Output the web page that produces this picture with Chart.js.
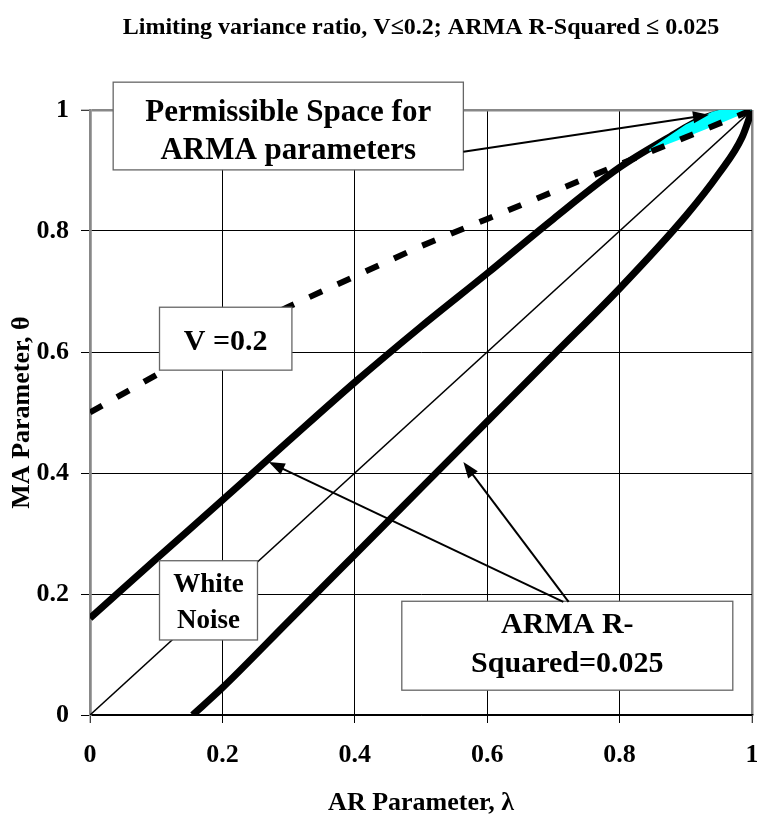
<!DOCTYPE html>
<html>
<head>
<meta charset="utf-8">
<script src="https://cdn.jsdelivr.net/npm/chart.js@4.4.0/dist/chart.umd.min.js"></script>
<style>
  html, body { margin: 0; padding: 0; background: #fff; }
  #wrap { width: 757px; height: 816px; position: relative; }
</style>
</head>
<body>
<div id="wrap"><canvas id="arma"></canvas></div>
<script>
// --- DATA ---
const xTickLabels = ['0', '0.2', '0.4', '0.6', '0.8', '1'];
const yTickLabels = ['0', '0.2', '0.4', '0.6', '0.8', '1'];

// ARMA R-Squared = 0.025, upper branch
const upperLam   = [0, 0.1, 0.2, 0.3, 0.4, 0.5, 0.6, 0.7, 0.8, 0.87, 0.93, 0.97, 1];
const upperTheta = [0.16, 0.258, 0.355, 0.453, 0.55, 0.642, 0.73, 0.82, 0.905, 0.952, 0.988, 0.998, 1];

// ARMA R-Squared = 0.025, lower branch
const lowerLam   = [0.155, 0.2, 0.3, 0.4, 0.5, 0.6, 0.7, 0.8, 0.9, 0.95, 0.985, 1];
const lowerTheta = [0, 0.045, 0.155, 0.265, 0.375, 0.485, 0.595, 0.705, 0.825, 0.895, 0.955, 1];

// V = 0.2 boundary
const vLam   = [0, 0.1, 0.2, 0.3, 0.4, 0.5, 0.6, 0.7, 0.8, 0.9, 1];
const vTheta = [0.5, 0.562, 0.62, 0.675, 0.725, 0.775, 0.82, 0.865, 0.91, 0.955, 1];

// white noise diagonal
const wnLam   = [0, 1];
const wnTheta = [0, 1];

// permissible region outline (cyan)
const permLam   = [0.845, 0.9, 0.94, 0.97, 1, 1, 0.95, 0.9, 0.845];
const permTheta = [0.935, 0.976, 0.997, 1.006, 1.008, 1.0, 0.977, 0.955, 0.932];

const titleText = 'Limiting variance ratio, V\u22640.2; ARMA R-Squared \u2264 0.025';

// text boxes, corners in data units
const notes = [
    { x0: 0.035, y0: 1.046, x1: 0.564, y1: 0.901, lines: ['Permissible Space for', 'ARMA parameters'], size: 31, gap: 38, dy: 6 },
    { x0: 0.105, y0: 0.674, x1: 0.305, y1: 0.570, lines: ['V =0.2'], size: 30, gap: 0, dy: 4 },
    { x0: 0.105, y0: 0.255, x1: 0.253, y1: 0.124, lines: ['White', 'Noise'], size: 27, gap: 36, dy: 3 },
    { x0: 0.471, y0: 0.188, x1: 0.971, y1: 0.041, lines: ['ARMA R-', 'Squared=0.025'], size: 30, gap: 39, dy: -1 }
];

// arrows: from -> to, data units
const arrows = [
    { x0: 0.564, y0: 0.931, x1: 0.935, y1: 0.992 },
    { x0: 0.715, y0: 0.187, x1: 0.270, y1: 0.418 },
    { x0: 0.723, y0: 0.187, x1: 0.564, y1: 0.418 }
];

const FONT = '"Liberation Serif", "Times New Roman", serif';
const pts = (xs, ys) => xs.map((x, i) => ({ x: x, y: ys[i] }));
const isEdge = v => Math.abs(v) < 1e-6 || Math.abs(v - 1) < 1e-6;

// --- annotation plugin ---
const annotate = {
    id: 'annotate',
    afterDraw(chart) {
        const { ctx, scales: { x, y }, chartArea } = chart;
        ctx.save();

        // title, centred over the plot area
        ctx.fillStyle = '#000';
        ctx.font = 'bold 24px ' + FONT;
        ctx.textAlign = 'center';
        ctx.textBaseline = 'middle';
        ctx.fillText(titleText, (chartArea.left + chartArea.right) / 2, 28);

        notes.forEach(n => {
            const l = x.getPixelForValue(n.x0), r = x.getPixelForValue(n.x1);
            const t = y.getPixelForValue(n.y0), b = y.getPixelForValue(n.y1);
            ctx.fillStyle = '#fff';
            ctx.fillRect(l, t, r - l, b - t);
            ctx.strokeStyle = '#666';
            ctx.lineWidth = 1.3;
            ctx.strokeRect(l, t, r - l, b - t);
            ctx.fillStyle = '#000';
            ctx.font = 'bold ' + n.size + 'px ' + FONT;
            const cx = (l + r) / 2, cy = (t + b) / 2 + n.dy;
            const start = cy - (n.lines.length - 1) * n.gap / 2;
            n.lines.forEach((s, i) => ctx.fillText(s, cx, start + i * n.gap));
        });

        arrows.forEach(a => {
            const x0 = x.getPixelForValue(a.x0), y0 = y.getPixelForValue(a.y0);
            const x1 = x.getPixelForValue(a.x1), y1 = y.getPixelForValue(a.y1);
            const ang = Math.atan2(y1 - y0, x1 - x0);
            const len = 16, half = 6;
            ctx.strokeStyle = '#000';
            ctx.lineWidth = 2;
            ctx.beginPath();
            ctx.moveTo(x0, y0);
            ctx.lineTo(x1 - Math.cos(ang) * len * 0.8, y1 - Math.sin(ang) * len * 0.8);
            ctx.stroke();
            ctx.fillStyle = '#000';
            ctx.beginPath();
            ctx.moveTo(x1, y1);
            ctx.lineTo(x1 - Math.cos(ang) * len - Math.sin(ang) * half, y1 - Math.sin(ang) * len + Math.cos(ang) * half);
            ctx.lineTo(x1 - Math.cos(ang) * len + Math.sin(ang) * half, y1 - Math.sin(ang) * len - Math.cos(ang) * half);
            ctx.closePath();
            ctx.fill();
        });
        ctx.restore();
    }
};

const tickFont = { family: FONT, size: 26, weight: 'bold' };
const titleFont = { family: FONT, size: 26, weight: 'bold', lineHeight: 1 };

// lower "order" is painted later (on top): R2 curves < cyan < dashed V line
new Chart(document.getElementById('arma').getContext('2d'), {
    type: 'line',
    data: {
        datasets: [
            { label: 'V=0.2', data: pts(vLam, vTheta), borderColor: '#000', borderWidth: 6, borderDash: [14, 17],
              pointRadius: 0, fill: false, order: 0 },
            { label: 'Permissible', data: pts(permLam, permTheta), fill: 'shape', backgroundColor: '#00ffff',
              borderWidth: 0, pointRadius: 0, order: 1, clip: 8 },
            { label: 'R2 upper', data: pts(upperLam, upperTheta), borderColor: '#000', borderWidth: 7,
              cubicInterpolationMode: 'monotone', pointRadius: 0, fill: false, order: 2 },
            { label: 'R2 lower', data: pts(lowerLam, lowerTheta), borderColor: '#000', borderWidth: 7,
              cubicInterpolationMode: 'monotone', pointRadius: 0, fill: false, order: 2 },
            { label: 'White noise', data: pts(wnLam, wnTheta), borderColor: '#000', borderWidth: 1.5,
              pointRadius: 0, fill: false, order: 3 }
        ]
    },
    options: {
        animation: false,
        responsive: true,
        maintainAspectRatio: false,
        layout: { padding: { top: 110, right: 5, left: 0, bottom: 0 } },
        plugins: { legend: { display: false }, tooltip: { enabled: false }, title: { display: false } },
        scales: {
            x: {
                type: 'linear', min: 0, max: 1,
                ticks: { stepSize: 0.2, callback: (v, i) => xTickLabels[i], font: tickFont, color: '#000',
                         padding: 17, maxRotation: 0, autoSkip: false },
                grid: { color: c => (c.tick && isEdge(c.tick.value)) ? '#888' : '#000',
                        lineWidth: c => (c.tick && isEdge(c.tick.value)) ? 2.5 : 1,
                        tickLength: 8, tickColor: '#000', tickWidth: 1 },
                border: { color: '#000', width: 1.5 },
                title: { display: true, text: 'AR Parameter, \u03bb', font: titleFont, color: '#000',
                         padding: { top: 0, bottom: 0 } },
                afterFit(s) { s.height = 101; s.paddingLeft = 0; s.paddingRight = 0; }
            },
            y: {
                type: 'linear', min: 0, max: 1,
                ticks: { stepSize: 0.2, callback: (v, i) => yTickLabels[i], font: tickFont, color: '#000',
                         padding: 12 },
                grid: { color: c => (c.tick && Math.abs(c.tick.value - 1) < 1e-6) ? '#888' : '#000',
                        lineWidth: c => (c.tick && Math.abs(c.tick.value - 1) < 1e-6) ? 2.5 : 1,
                        tickLength: 9, tickColor: '#000', tickWidth: 1 },
                border: { color: '#888', width: 2.5 },
                title: { display: true, text: 'MA Parameter, \u03b8', font: titleFont, color: '#000',
                         padding: { top: 9, bottom: 0 } },
                afterFit(s) { s.width = 90; s.paddingTop = 0; s.paddingBottom = 0; }
            }
        }
    },
    plugins: [annotate]
});
</script>
</body>
</html>
